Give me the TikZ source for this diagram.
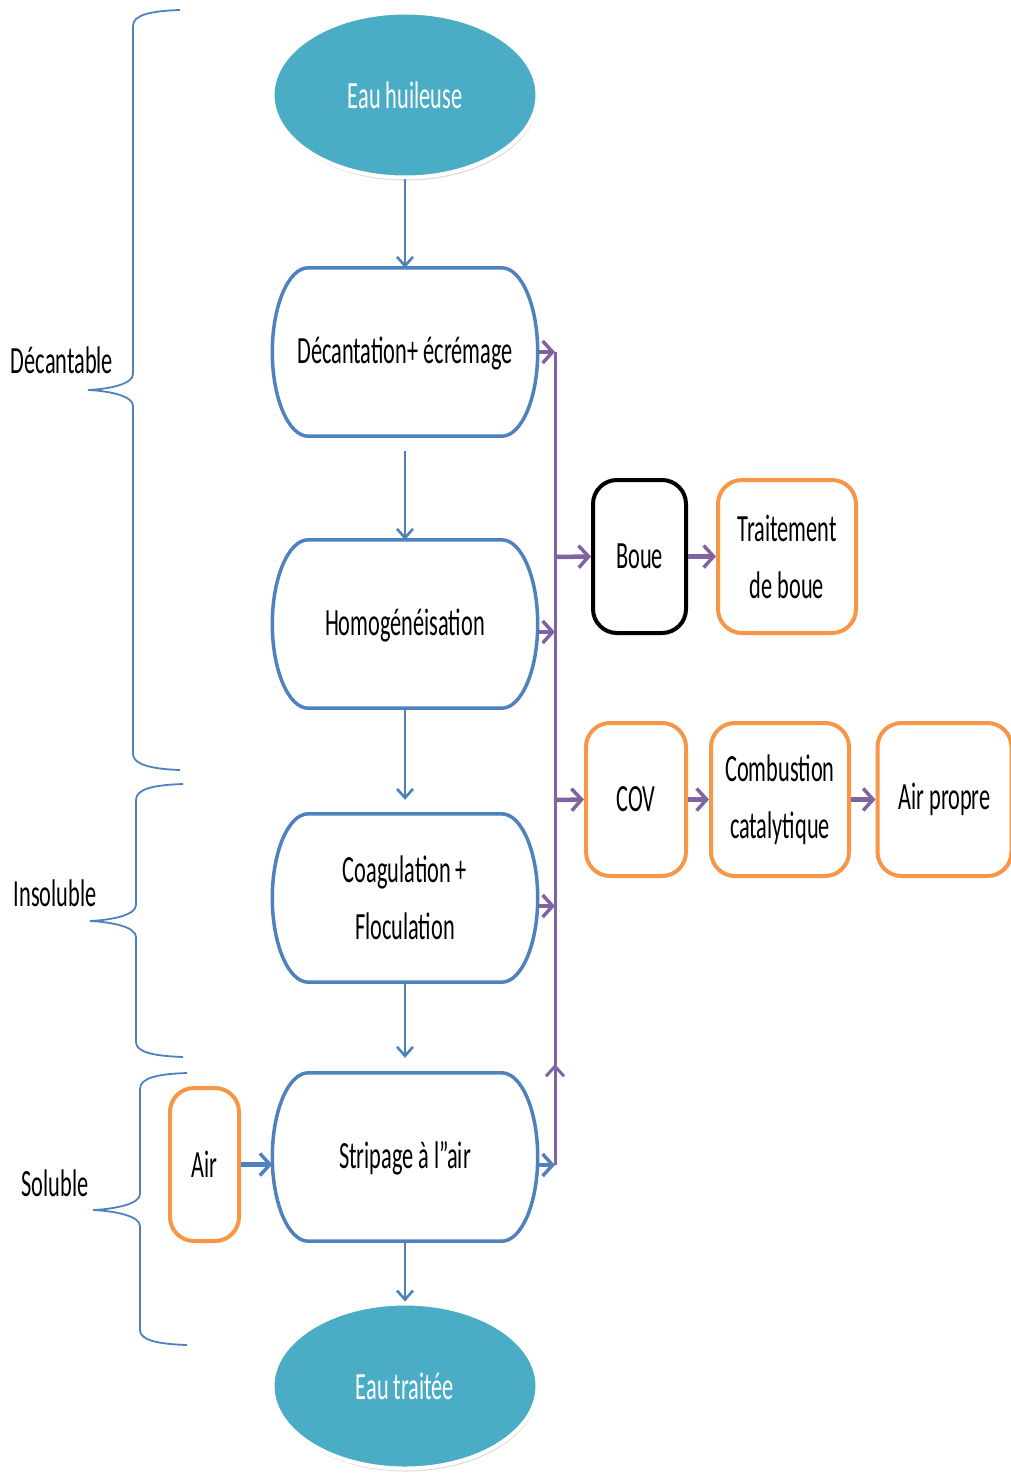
\documentclass[tikz,border=0pt]{standalone}
\usepackage{fontspec}
\usetikzlibrary{arrows.meta,shadows,shapes.geometric}
\newfontfamily\cf[FakeStretch=0.58]{Carlito}
\definecolor{cTeal}{HTML}{4BACC6}
\definecolor{cBlue}{HTML}{4F81BD}
\definecolor{cOrange}{HTML}{F79646}
\definecolor{cPurple}{HTML}{8064A2}
\begin{document}
\begin{tikzpicture}[x=1pt,y=-1pt,
  txt/.style={font=\cf\fontsize{38.5}{57}\selectfont, align=center},
  ell/.style={ellipse, fill=cTeal, draw=white, line width=4pt, minimum width=265pt, minimum height=165pt, text=white, txt, inner sep=0pt,
    drop shadow={opacity=0.3, shadow xshift=1pt, shadow yshift=-3pt}},
  procbox/.style={rectangle, minimum width=265pt, minimum height=168pt, txt, inner sep=0pt},
  procline/.style={cBlue, line width=3.5pt},
  smallbox/.style={rectangle, rounded corners=24pt, line width=4pt, minimum height=153pt, txt, inner sep=0pt, fill=white},
  obox/.style={smallbox, draw=cOrange},
  kbox/.style={smallbox, draw=black},
  barrow/.style={cBlue, line width=2.4pt, -{Straight Barb[length=9pt,width=16pt,line width=2.6pt]}},
  bthick/.style={cBlue, line width=4.5pt, -{Straight Barb[length=10pt,width=22pt,line width=3.5pt]}},
  parrow/.style={cPurple, line width=4.5pt, -{Straight Barb[length=10pt,width=22pt,line width=3.5pt]}},
  pline/.style={cPurple, line width=3pt},
  brace/.style={cBlue, line width=1.8pt},
  lbl/.style={txt, text=black}
]
\useasboundingbox (0,0) rectangle (1011,1474);

% main column
\node[ell] (n1) at (405,95) {Eau huileuse};
\node[procbox] (d1) at (405,352) {\strut Décantation+ écrémage};
\node[procbox] (d2) at (405,624) {\strut Homogénéisation};
\node[procbox] (d3) at (405,898) {Coagulation +\\Floculation};
\node[procbox] (d4) at (405,1157) {\strut Stripage à l”air};
\node[ell] (n2) at (405,1386) {Eau traitée};

\foreach \n in {d1,d2,d3,d4}{
  \draw[procline] ([xshift=36pt]\n.north west) -- ([xshift=-36pt]\n.north east)
    .. controls +(20,0) and +(0,-46) .. (\n.east)
    .. controls +(0,46) and +(20,0) .. ([xshift=-36pt]\n.south east)
    -- ([xshift=36pt]\n.south west)
    .. controls +(-20,0) and +(0,46) .. (\n.west)
    .. controls +(0,-46) and +(-20,0) .. ([xshift=36pt]\n.north west) -- ([xshift=40pt]\n.north west);
}

% side boxes
\node[kbox, minimum width=93pt] (boue) at (639.5,556.5) {Boue};
\node[obox, minimum width=138pt] (trait) at (787,556.5) {Traitement\\de boue};
\node[obox, minimum width=100pt] (cov) at (636,799.5) {COV};
\node[obox, minimum width=138pt] (comb) at (780,799.5) {Combustion\\catalytique};
\node[obox, minimum width=134pt] (airp) at (944.5,799.5) {Air propre};
\node[obox, minimum width=69pt] (air) at (204.5,1164.5) {Air};

% main vertical arrows
\draw[barrow] (n1.south) -- (d1.north);
\draw[barrow, shorten <=15pt] (d1.south) -- (d2.north);
\draw[barrow, shorten >=14pt] (d2.south) -- (d3.north);
\draw[barrow, shorten >=15pt] (d3.south) -- (d4.north);
\draw[barrow] (d4.south) -- (n2.north);

% bus
\coordinate (j1) at (555,352);
\coordinate (j2) at (555,632);
\coordinate (j3) at (555,906);
\coordinate (j4) at (555,1165);
\coordinate (jm) at (555,1064);
\coordinate (o1) at (555,557);
\coordinate (o2) at (555,800);
\draw[pline] (j4) -- (j1);
\draw[pline, -{Straight Barb[length=10pt,width=18pt,line width=3pt]}] (j4) -- (jm);
\draw[parrow] (d1.east |- j1) -- (j1);
\draw[parrow] (d2.east |- j2) -- (j2);
\draw[parrow] (d3.east |- j3) -- (j3);
\draw[bthick] (d4.east |- j4) -- (j4);
\draw[parrow] (o1) -- (boue.west);
\draw[parrow] (o2) -- (cov.west);
\draw[parrow] (boue.east) -- (trait.west);
\draw[parrow] (cov.east) -- (comb.west);
\draw[parrow] (comb.east) -- (airp.west);
\draw[bthick] (air.east) -- (d4.west |- air.east);

% braces
\draw[brace] (180,10) .. controls (150,11) and (133,15) .. (133,26) -- (133,374)
  .. controls (133,384) and (110,389) .. (88,390)
  .. controls (110,391) and (133,396) .. (133,406) -- (133,754)
  .. controls (133,764) and (150,769) .. (180,770);
\draw[brace] (183,784) .. controls (153,785) and (136,789) .. (136,800) -- (136,905)
  .. controls (136,915) and (112,920) .. (90,921)
  .. controls (112,922) and (136,927) .. (136,937) -- (136,1042)
  .. controls (136,1052) and (153,1056) .. (183,1057);
\draw[brace] (187,1073) .. controls (157,1074) and (140,1078) .. (140,1089) -- (140,1194)
  .. controls (140,1204) and (115,1209) .. (93,1210)
  .. controls (115,1211) and (140,1216) .. (140,1226) -- (140,1330)
  .. controls (140,1340) and (157,1344) .. (187,1345);

\node[lbl] (l1) at (62,360) {Décantable};
\node[lbl] (l2) at (55,893) {Insoluble};
\node[lbl] (l3) at (55,1183) {Soluble};
\end{tikzpicture}
\end{document}
